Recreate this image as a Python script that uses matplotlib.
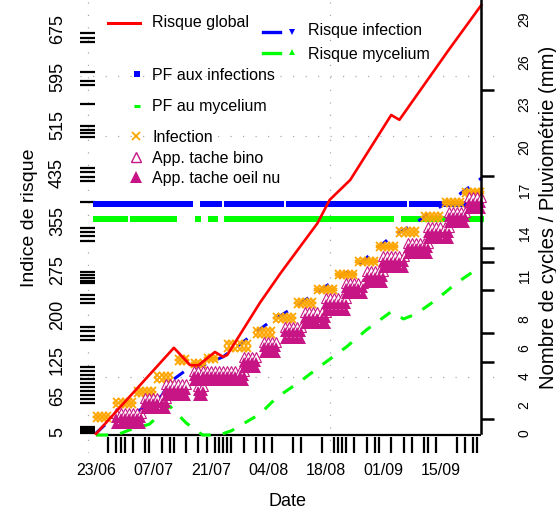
import matplotlib
matplotlib.use("Agg")
import matplotlib.pyplot as plt
from matplotlib.lines import Line2D

plt.rcParams["font.family"] = ["Liberation Sans", "DejaVu Sans"]

# x axis = days since 23/06
date_pos = [0, 14, 28, 42, 56, 70, 84]
date_labels = ["23/06", "07/07", "21/07", "04/08", "18/08", "01/09", "15/09"]

# Risque global
glob_days = [0, 19, 23, 25, 29, 31, 32, 40, 45, 54, 57, 62, 72, 74, 86, 94]
glob_risk = [2, 145, 116, 116, 138, 130, 133, 220, 269, 352, 391, 424, 532, 524, 640, 715]

# Risque infection
rinf_days = [0, 3, 12, 16, 18, 23, 25, 31, 42, 48, 52, 58, 64, 71, 77, 82, 88, 94]
rinf_risk = [3, 22, 45, 65, 88, 113, 113, 130, 186, 211, 229, 256, 283, 324, 349, 371, 397, 427]

# Risque mycelium
rmyc_days = [0, 5, 8, 13, 18, 22, 26, 30, 33, 40, 44, 50, 55, 61, 66, 72, 75, 78, 83, 88, 94]
rmyc_risk = [0, 0, 8, 18, 48, 20, 0, 0, 7, 35, 62, 90, 116, 146, 175, 205, 193, 201, 225, 253, 281]

# seuils PF (periodes ou ils sont affiches)
pf_inf_level = 384
pf_inf_runs = [(0, 23), (26, 30), (32, 45), (47, 75), (77, 94)]
pf_myc_level = 359
pf_myc_runs = [(0, 7), (9, 19), (25, 25), (28, 29), (32, 72), (75, 94)]

# infections (jours, indice haut / bas)
infect_days = [
    [0, 1, 2, 3], [5, 6, 7, 8, 9], [10, 11, 12, 13, 14], [15, 16, 17, 18],
    [20, 21, 22], [24, 25, 26], [27, 28, 29], [32, 33, 34, 35, 36, 37],
    [39, 40, 41, 42, 43], [44, 45, 46, 47, 48], [49, 50, 51, 52, 53],
    [54, 55, 56, 57, 58], [59, 60, 61, 62, 63], [64, 65, 66, 67, 68],
    [69, 70, 71, 72, 73], [74, 75, 76, 77, 78], [80, 81, 82, 83, 84],
    [85, 86, 87, 88, 89], [90, 91, 92, 93, 94],
]
infect_high = [33, 57, 75, 100, 128, 121, 130, 153, 175, 198, 223, 244, 269, 291, 316, 341, 366, 389, 406]
infect_low = [27, 50, 68, 91, 121, 116, 125, 143, 166, 191, 216, 239, 264, 286, 311, 334, 359, 384, 401]

# apparition des taches
tache_days = [
    [5, 6, 7, 8, 9, 10, 11], [12, 13, 14, 15, 16, 17], [17, 18, 19, 20, 21, 22],
    [25, 26], [24, 25, 26, 27, 28, 29, 30, 31, 32, 33, 34, 35, 36],
    [36, 37, 38, 39], [41, 42, 43, 44], [46, 47, 48, 49, 50],
    [51, 52, 53, 54, 55, 56], [56, 57, 58, 59, 60, 61], [61, 62, 63, 64, 65],
    [66, 67, 68, 69, 70], [70, 71, 72, 73, 74, 75], [76, 77, 78, 79, 80, 81],
    [81, 82, 83, 84, 85, 86], [86, 87, 88, 89, 90], [91, 92, 93, 94],
]
oeil_low = [18, 43, 65, 65, 90, 111, 136, 160, 185, 206, 234, 253, 278, 301, 326, 353, 376]
oeil_high = [28, 53, 75, 73, 98, 121, 146, 171, 195, 218, 244, 263, 288, 311, 336, 362, 386]
bino_val = [37, 62, 84, 82, 107, 130, 155, 180, 204, 227, 253, 272, 297, 320, 345, 371, 395]

# rugs
rain_days = [0, 3, 5, 6, 7, 9, 12, 13, 16, 18, 19, 22, 25, 27, 29, 30, 31, 32, 33, 36, 39,
             41, 43, 48, 50, 55, 56, 58, 59, 60, 61, 63, 66, 68, 69, 70, 72, 75, 77, 80,
             81, 83, 84, 88, 90, 92, 93]
risk_rug = [675, 668, 660, 653, 604, 595, 588, 582, 550, 514, 507, 502, 495, 444, 437,
            429, 422, 387, 344, 337, 331, 322, 271, 266, 261, 256, 253, 233, 226, 219,
            180, 173, 165, 158, 113, 106, 100, 93, 86, 80, 73, 66, 60, 53, 13, 10, 7, 3]
cycle_rug = [0, 1, 2, 4, 5, 6, 7, 10, 11, 12, 13, 17, 18, 24]

left_ticks = [5, 65, 125, 200, 275, 355, 435, 515, 595, 675]
right_ticks = [0, 2, 4, 6, 8, 11, 14, 17, 20, 23, 26, 29]

RED, BLUE, GREEN = "#FF0000", "#0000FF", "#00FF00"
ORANGE, MAG = "#FFA500", "#C71585"


def spread(groups, *rows):
    xs, ys = [], []
    for days, *vals in zip(groups, *rows):
        for v in vals:
            xs += days
            ys += [v] * len(days)
    return xs, ys


def runs(pairs):
    out = []
    for a, b in pairs:
        out += list(range(a, b + 1))
    return out


W, H = 556, 512
fig = plt.figure(figsize=(W / 100, H / 100), dpi=100)
ax = fig.add_axes([80 / W, 1 - 453 / H, 417 / W, 453 / H])
ax.set_xlim(-3.9, 97.8)
ax.set_ylim(-29.9, 723.2)
for s in ax.spines.values():
    s.set_visible(False)

# grille pointillee
grid_kw = dict(color="#AAAAAA", lw=0.9, ls=(0, (1, 9)), zorder=0)
for gx in [-2, 57]:
    ax.axvline(gx, **grid_kw)
for gy in [597, 497, 96]:
    ax.axhline(gy, **grid_kw)

ax.hlines(0, 0, 94, color="black", lw=1.6, zorder=1)

d = runs(pf_inf_runs)
ax.plot(d, [pf_inf_level] * len(d), "s", color=BLUE, ms=4.4, mew=0, zorder=2)
d = runs(pf_myc_runs)
ax.plot(d, [pf_myc_level] * len(d), "s", color=GREEN, ms=3.7, mew=0, zorder=2)

ax.plot(rmyc_days, rmyc_risk, color=GREEN, lw=2.2, dashes=(4, 4), zorder=3)
ax.plot(rinf_days, rinf_risk, color=BLUE, lw=2.2, dashes=(4, 4), zorder=3)

x, y = spread(infect_days, infect_high, infect_low)
ax.plot(x, y, "x", color=ORANGE, ms=5, mew=1.3, zorder=4)
x, y = spread(tache_days, bino_val)
ax.plot(x, y, "^", mfc="white", mec=MAG, ms=6.5, mew=0.8, zorder=5)
x, y = spread(tache_days, oeil_high, oeil_low)
ax.plot(x, y, "^", color=MAG, ms=6.5, mew=0, zorder=6)

ax.plot(glob_days, glob_risk, color=RED, lw=1.9, zorder=7)

ax.set_xticks(date_pos, date_labels)
ax.set_xticks(rain_days, minor=True)
ax.tick_params(axis="x", which="major", length=0, pad=7, labelsize=11.5)
ax.tick_params(axis="x", which="minor", direction="in", length=11.5, width=1.6)

ax.set_yticks(left_ticks, [str(v) for v in left_ticks])
ax.set_yticks(risk_rug, minor=True)
ax.tick_params(axis="y", which="major", length=0, pad=10, labelsize=13)
ax.tick_params(axis="y", which="minor", direction="in", length=10.8, width=1.6)
for t in ax.get_yticklabels():
    t.set_rotation(90)
    t.set_va("center")

ax2 = ax.twinx()
ax2.set_ylim(-1.364, 30.315)
for k in ["left", "top", "bottom"]:
    ax2.spines[k].set_visible(False)
ax2.spines["right"].set_position(("data", 94))
ax2.spines["right"].set_bounds(0, 30.315)
ax2.spines["right"].set_linewidth(1.8)
ax2.set_yticks(right_ticks, [str(v) for v in right_ticks])
ax2.set_yticks(cycle_rug, minor=True)
ax2.tick_params(axis="y", which="major", length=0, pad=26, labelsize=10)
ax2.tick_params(axis="y", which="minor", direction="out", length=9.4, width=1.8)
for t in ax2.get_yticklabels():
    t.set_rotation(90)
    t.set_va("center")

fig.text(30 / W, 1 - 218 / H, "Indice de risque", rotation=90, ha="center", va="center", fontsize=14)
fig.text(548 / W, 1 - 217 / H, "Nombre de cycles / Pluviométrie (mm)", rotation=90,
         ha="center", va="center", fontsize=14.6)
fig.text(288 / W, 1 - 510 / H, "Date", ha="center", va="bottom", fontsize=13)


# legende
def leg_line(x0, x1, y, **kw):
    fig.add_artist(Line2D([x0 / W, x1 / W], [1 - y / H] * 2, transform=fig.transFigure, **kw))


def leg_mark(xp, y, **kw):
    fig.add_artist(Line2D([xp / W], [1 - y / H], transform=fig.transFigure, ls="none", **kw))


def leg_text(xp, y, s):
    fig.text(xp / W, 1 - y / H, s, ha="left", va="center", fontsize=11.5)


leg_line(108, 140, 23, color=RED, lw=2.2)
leg_text(152, 22, "Risque global")
leg_line(263, 280, 32, color=BLUE, lw=2.4)
leg_mark(292, 32, marker="v", color=BLUE, ms=4, mew=0)
leg_text(308, 31, "Risque infection")
leg_line(263, 280, 53, color=GREEN, lw=2.4)
leg_mark(292, 52, marker="^", color=GREEN, ms=4, mew=0)
leg_text(308, 54, "Risque mycelium")
leg_mark(137, 74, marker="s", color=BLUE, ms=5, mew=0)
leg_text(152, 75, "PF aux infections")
leg_mark(137, 106, marker="_", color=GREEN, ms=5, mew=2.2)
leg_text(152, 107, "PF au mycelium")
leg_mark(136, 136, marker="x", color=ORANGE, ms=6, mew=1.3)
leg_text(152, 137, "Infection")
leg_mark(136, 157, marker="^", mfc="white", mec=MAG, ms=7, mew=1)
leg_text(152, 158, "App. tache bino")
leg_mark(136, 177, marker="^", color=MAG, ms=9, mew=0)
leg_text(152, 178, "App. tache oeil nu")

fig.savefig("out.png", dpi=100)
